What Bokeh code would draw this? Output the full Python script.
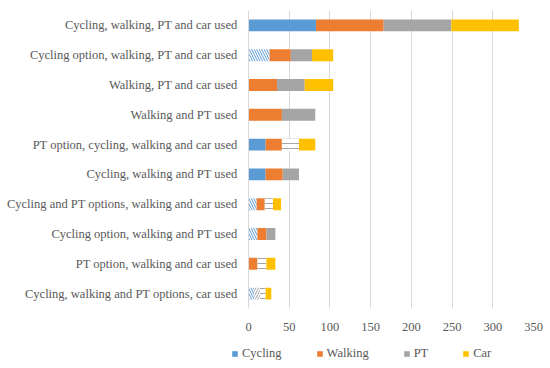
import numpy as np
from bokeh.plotting import figure
from bokeh.layouts import column, row
from bokeh.models import ColumnDataSource, Range1d, FactorRange, Legend, LegendItem, SingleIntervalTicker
from bokeh.embed import file_html
from bokeh.resources import INLINE

categories = [
    "Cycling, walking, PT and car used",
    "Cycling option, walking, PT and car used",
    "Walking, PT and car used",
    "Walking and PT used",
    "PT option, cycling, walking and car used",
    "Cycling, walking and PT used",
    "Cycling and PT options, walking and car used",
    "Cycling option, walking and PT used",
    "PT option, walking and car used",
    "Cycling, walking and PT options, car used",
]
cycling = [83, 26, 0, 0, 21, 21, 10, 11, 0, 7]
walking = [83, 26, 35, 41, 20, 21, 10, 11, 11, 7]
pt = [83, 26, 34, 41, 21, 20, 10, 11, 11, 7]
car = [83, 26, 35, 0, 20, 0, 10, 0, 11, 7]
# which values are "options" (drawn hatched)
cycling_option = [False, True, False, False, False, False, True, True, False, True]
walking_option = [False, False, False, False, False, False, False, False, False, True]
pt_option = [False, False, False, False, True, False, True, False, True, True]
car_option = [False] * 10

series = ["Cycling", "Walking", "PT", "Car"]
values = [cycling, walking, pt, car]
options = [cycling_option, walking_option, pt_option, car_option]
colors = ["#5b9bd5", "#ed7d31", "#a5a5a5", "#ffc000"]
hatch_colors = ["#5b9bd5", "#a5a5a5", "#a5a5a5", "#ffc000"]
hatch_kinds = ["\\", "/", "-", " "]

FONT = "Liberation Serif"
GREY_TXT = "#595959"

p = figure(width=550, height=336, output_backend="svg", toolbar_location=None,
           y_range=FactorRange(*categories[::-1], range_padding=0),
           x_range=Range1d(0, 350),
           min_border_left=248, min_border_right=17, min_border_top=10, min_border_bottom=28)
p.outline_line_color = None

left = np.zeros(len(categories))
for name, vals, opts, col, hcol, hk in zip(series, values, options, colors, hatch_colors, hatch_kinds):
    vals = np.array(vals, dtype=float)
    src = ColumnDataSource(dict(
        y=categories,
        left=left.copy(),
        right=left + vals,
        fill=["white" if o else col for o in opts],
        hatch=[hk if o else " " for o in opts],
    ))
    p.hbar(y="y", left="left", right="right", height=0.4, source=src,
           fill_color="fill", line_color=None,
           hatch_pattern="hatch", hatch_color=hcol, hatch_scale=5, hatch_weight=1)
    left = left + vals

# axes
p.xaxis.ticker = SingleIntervalTicker(interval=50)
p.xaxis.axis_line_color = None
p.xaxis.major_tick_line_color = None
p.xaxis.minor_tick_line_color = None
p.xaxis.major_tick_out = 0
p.xaxis.major_label_standoff = 10
p.xaxis.major_label_text_font = FONT
p.xaxis.major_label_text_font_size = "12.5px"
p.xaxis.major_label_text_color = GREY_TXT

p.yaxis.axis_line_color = "#d9d9d9"
p.yaxis.major_tick_line_color = None
p.yaxis.minor_tick_line_color = None
p.yaxis.major_tick_out = 0
p.yaxis.major_label_standoff = 11
p.yaxis.major_label_text_font = FONT
p.yaxis.major_label_text_font_size = "12.5px"
p.yaxis.major_label_text_color = GREY_TXT

p.ygrid.grid_line_color = None
p.xgrid.grid_line_color = "#d9d9d9"

# legend strip below the chart (its own small figure)
lg = figure(width=550, height=30, output_backend="svg", toolbar_location=None,
            x_range=Range1d(0, 550), y_range=Range1d(0, 30),
            x_axis_location=None, y_axis_location=None,
            min_border_left=0, min_border_right=0, min_border_top=0, min_border_bottom=0)
lg.grid.visible = False
lg.outline_line_color = None
items = []
for name, col in zip(series, colors):
    r = lg.quad(left=[-20], right=[-10], top=[-10], bottom=[-20], fill_color=col, line_color=None)
    items.append(LegendItem(label=name, renderers=[r], index=0))

legend = Legend(items=items, orientation="horizontal", location=(231, 5),
                glyph_width=7, glyph_height=7, label_standoff=4, spacing=34,
                label_width=0, label_height=14, padding=0, margin=0,
                border_line_color=None, background_fill_alpha=0,
                label_text_font=FONT, label_text_font_size="12.5px", label_text_color=GREY_TXT)
lg.add_layout(legend, "center")

layout = column(p, row(lg), spacing=0)
open("out.html", "w").write(file_html(layout, INLINE))
